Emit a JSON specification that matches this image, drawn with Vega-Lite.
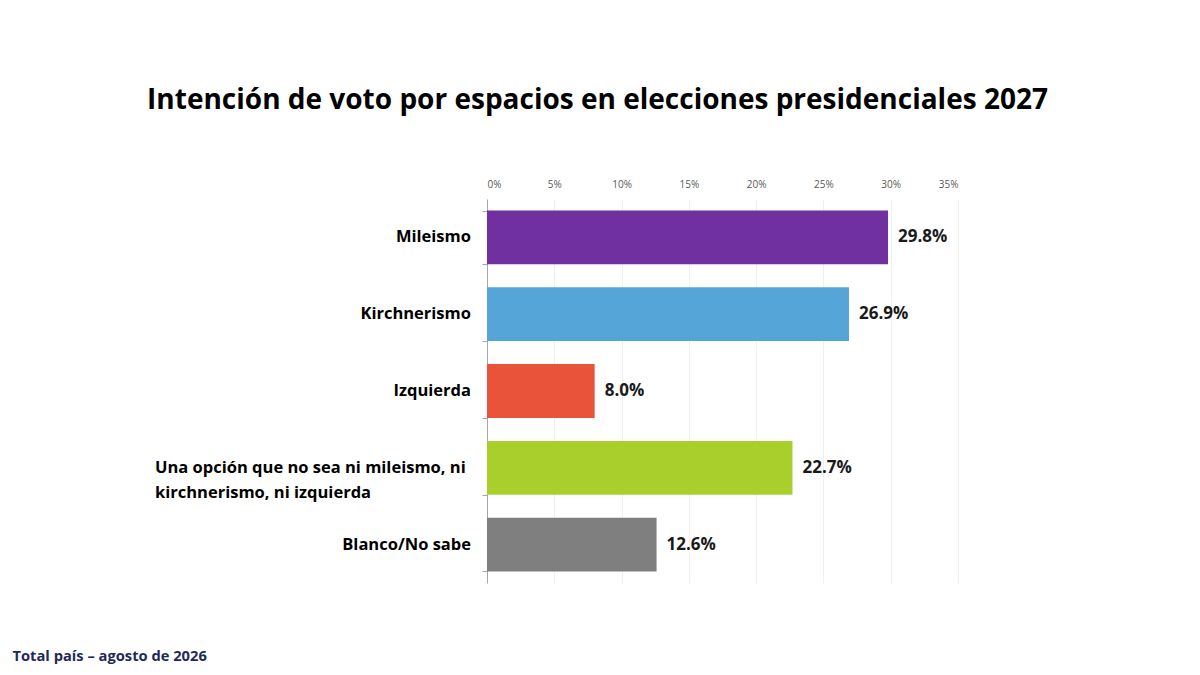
{
  "$schema": "https://vega.github.io/schema/vega-lite/v6.json",
  "description": "Intencion de voto por espacios, elecciones presidenciales 2027",
  "width": 471,
  "height": 384,
  "autosize": "none",
  "padding": {"left": 487, "top": 199, "right": 242, "bottom": 92},
  "background": "#ffffff",
  "config": {
    "font": "Open Sans, sans-serif",
    "view": {"stroke": null}
  },
  "title": {
    "text": "Intención de voto por espacios en elecciones presidenciales 2027",
    "fontSize": 28,
    "fontWeight": "bold",
    "color": "#000000",
    "anchor": "middle",
    "dx": -125,
    "offset": 64
  },
  "data": {
    "values": [
      {"espacio": "Mileismo", "voto": 0.298, "color": "#7030a0"},
      {"espacio": "Kirchnerismo", "voto": 0.269, "color": "#56a5d8"},
      {"espacio": "Izquierda", "voto": 0.080, "color": "#e8533a"},
      {"espacio": "Una opción que no sea ni mileismo, ni kirchnerismo, ni izquierda", "voto": 0.227, "color": "#a9cf2c"},
      {"espacio": "Blanco/No sabe", "voto": 0.126, "color": "#7f7f7f"}
    ]
  },
  "encoding": {
    "y": {
      "field": "espacio",
      "type": "nominal",
      "sort": null,
      "scale": {"paddingInner": 0.3, "paddingOuter": 0.15},
      "axis": {
        "title": "Total país – agosto de 2026",
        "titleAngle": 0,
        "titleAlign": "left",
        "titleBaseline": "alphabetic",
        "titleX": -475,
        "titleY": 461,
        "titleFontSize": 14.7,
        "titleFontWeight": "bold",
        "titleColor": "#1f2a5a",
        "labels": false,
        "domainColor": "#a6a6a6",
        "tickColor": "#a6a6a6",
        "tickSize": 5,
        "tickBand": "extent",
        "grid": false
      }
    }
  },
  "layer": [
    {
      "mark": {"type": "bar"},
      "encoding": {
        "x": {
          "field": "voto",
          "type": "quantitative",
          "scale": {"domain": [0, 0.35], "nice": false},
          "axis": {
            "orient": "top",
            "title": null,
            "format": ".0%",
            "values": [0, 0.05, 0.1, 0.15, 0.2, 0.25, 0.3, 0.35],
            "labelFontSize": 10,
            "labelColor": "#595959",
            "labelPadding": 10,
            "domain": false,
            "ticks": false,
            "grid": true,
            "gridColor": "#efefef"
          }
        },
        "color": {"field": "color", "type": "nominal", "scale": null, "legend": null}
      }
    },
    {
      "mark": {"type": "text", "align": "left", "dx": 10, "fontSize": 17, "fontWeight": "bold", "color": "#1a1a1a"},
      "encoding": {
        "x": {"field": "voto", "type": "quantitative"},
        "text": {"field": "voto", "type": "quantitative", "format": ".1%"}
      }
    },
    {
      "transform": [{"filter": "length(datum.espacio) < 40"}],
      "mark": {"type": "text", "align": "right", "baseline": "middle", "dx": -16, "fontSize": 16.5, "fontWeight": "bold", "color": "#000000"},
      "encoding": {
        "x": {"datum": 0, "type": "quantitative"},
        "text": {"field": "espacio", "type": "nominal"}
      }
    },
    {
      "transform": [{"filter": "length(datum.espacio) >= 40"}],
      "mark": {"type": "text", "align": "left", "baseline": "middle", "dx": -332, "lineHeight": 25, "fontSize": 16.5, "fontWeight": "bold", "color": "#000000"},
      "encoding": {
        "x": {"datum": 0, "type": "quantitative"},
        "text": {"value": ["Una opción que no sea ni mileismo, ni", "kirchnerismo, ni izquierda"]}
      }
    }
  ]
}
